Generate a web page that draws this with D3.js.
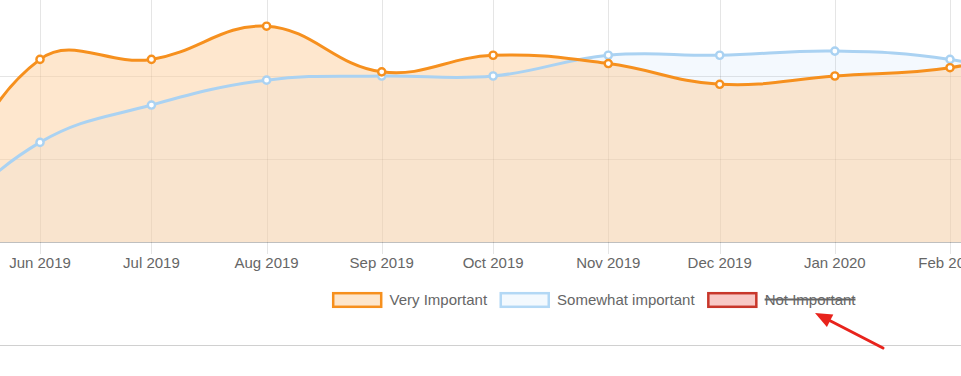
<!DOCTYPE html>
<html>
<head>
<meta charset="utf-8">
<script src="https://cdn.jsdelivr.net/npm/d3@7"></script>
<style>
  body { margin: 0; background: #fff; }
  svg { display: block; font-family: "Liberation Sans", Arial, sans-serif; }
</style>
</head>
<body>
<div id="chart"></div>
<script>
// months shown (first of month); May 2019 and Mar 2020 sit just outside the crop
const months = ["2019-05-01", "2019-06-01", "2019-07-01", "2019-08-01", "2019-09-01", "2019-10-01",
                "2019-11-01", "2019-12-01", "2020-01-01", "2020-02-01", "2020-03-01"];
const veryImportant     = [1.5, 22, 22, 26, 20.5, 22.5, 21.5, 19, 20, 21, 24];
const somewhatImportant = [0.5, 12, 16.5, 19.5, 20, 20, 22.5, 22.5, 23, 22, 19];
const legendLabels = ["Very Important", "Somewhat important", "Not Important"];
const tickMonths = ["2019-06-01", "2019-07-01", "2019-08-01", "2019-09-01", "2019-10-01",
                    "2019-11-01", "2019-12-01", "2020-01-01", "2020-02-01"];
const yTicks = [0, 10, 20, 30];

const W = 961, H = 376;
const axisY = 242;
const parse = d3.timeParse("%Y-%m-%d");
const dates = months.map(parse);
const ticks = tickMonths.map(parse);

const svg = d3.select("#chart").append("svg")
    .attr("width", W)
    .attr("height", H);

// time scale anchored on the Jun 2019 and Feb 2020 gridlines
const x = d3.scaleTime()
    .domain([ticks[0], ticks[ticks.length - 1]])
    .range([40, 950]);

const y = d3.scaleLinear()
    .domain([0, 20])
    .range([axisY, 76]);

// Chart.js style spline (tension 0.4) as a d3 curve
function curveSpline(context) {
    const T = 0.4;
    let pts, line = NaN;
    return {
        areaStart() { line = 0; },
        areaEnd() { line = NaN; },
        lineStart() { pts = []; },
        point(px, py) { pts.push([+px, +py]); },
        lineEnd() {
            const n = pts.length;
            if (!n) return;
            if (line) context.lineTo(pts[0][0], pts[0][1]);
            else context.moveTo(pts[0][0], pts[0][1]);
            const cp = pts.map((p, i) => {
                const prev = pts[i - 1] || p, next = pts[i + 1] || p;
                const d01 = Math.hypot(p[0] - prev[0], p[1] - prev[1]);
                const d12 = Math.hypot(next[0] - p[0], next[1] - p[1]);
                let s01 = d01 / (d01 + d12), s12 = d12 / (d01 + d12);
                if (isNaN(s01)) s01 = 0;
                if (isNaN(s12)) s12 = 0;
                const fa = T * s01, fb = T * s12;
                return {
                    prev: [p[0] - fa * (next[0] - prev[0]), p[1] - fa * (next[1] - prev[1])],
                    next: [p[0] + fb * (next[0] - prev[0]), p[1] + fb * (next[1] - prev[1])]
                };
            });
            for (let i = 1; i < n; i++) {
                context.bezierCurveTo(cp[i - 1].next[0], cp[i - 1].next[1],
                                      cp[i].prev[0], cp[i].prev[1], pts[i][0], pts[i][1]);
            }
            if (line || (line !== 0 && n === 1)) context.closePath();
            line = 1 - line;
        }
    };
}

svg.append("defs").append("clipPath")
    .attr("id", "plot-clip")
  .append("rect")
    .attr("x", 0).attr("y", -20)
    .attr("width", W).attr("height", axisY + 20);

// gridlines
svg.append("g")
    .selectAll("line")
    .data(ticks)
    .join("line")
    .attr("x1", d => Math.round(x(d)) + 0.5)
    .attr("x2", d => Math.round(x(d)) + 0.5)
    .attr("y1", 0)
    .attr("y2", axisY + 12)
    .attr("stroke", "rgba(0,0,0,0.1)");

svg.append("g")
    .selectAll("line")
    .data(yTicks.filter(d => d > 0))
    .join("line")
    .attr("x1", 0).attr("x2", W)
    .attr("y1", d => Math.round(y(d)) + 0.5)
    .attr("y2", d => Math.round(y(d)) + 0.5)
    .attr("stroke", "rgba(0,0,0,0.1)");

// last dataset drawn first, so "Very Important" sits on top
const series = [
    { key: legendLabels[1], values: somewhatImportant, stroke: "#aad2f2", fill: "rgba(130,190,245,0.09)" },
    { key: legendLabels[0], values: veryImportant, stroke: "#f6901e", fill: "rgba(253,208,158,0.5)" }
];
series.forEach(s => s.pts = dates.map((d, i) => ({ date: d, value: s.values[i] })));

const lineGen = d3.line()
    .x(d => x(d.date))
    .y(d => y(d.value))
    .curve(curveSpline);

const areaGen = d3.area()
    .x(d => x(d.date))
    .y0(y(0))
    .y1(d => y(d.value))
    .curve(curveSpline);

const plot = svg.append("g").attr("clip-path", "url(#plot-clip)");

// fills first, then the lines and points over them
series.forEach(s => {
    plot.append("path")
        .attr("d", areaGen(s.pts))
        .attr("fill", s.fill);
});

series.forEach(s => {
    plot.append("path")
        .attr("d", lineGen(s.pts))
        .attr("fill", "none")
        .attr("stroke", s.stroke)
        .attr("stroke-width", 3);
    plot.append("g")
        .selectAll("circle")
        .data(s.pts)
        .join("circle")
        .attr("cx", d => x(d.date))
        .attr("cy", d => y(d.value))
        .attr("r", 3.6)
        .attr("fill", "#fff")
        .attr("stroke", s.stroke)
        .attr("stroke-width", 2.4);
});

// x axis line + labels
svg.append("line")
    .attr("x1", 0).attr("x2", W)
    .attr("y1", axisY + 0.5).attr("y2", axisY + 0.5)
    .attr("stroke", "rgba(0,0,0,0.25)");

const fmt = d3.timeFormat("%b %Y");
svg.append("g")
    .selectAll("text")
    .data(ticks)
    .join("text")
    .attr("x", d => x(d))
    .attr("y", 268)
    .attr("text-anchor", "middle")
    .attr("font-size", 15)
    .attr("fill", "#666")
    .text(d => fmt(d));

// legend
const legendItems = [
    { label: legendLabels[0], stroke: "#f6901e", fill: "#fde6cc", hidden: false },
    { label: legendLabels[1], stroke: "#b3d8f5", fill: "#f3f9fe", hidden: false },
    { label: legendLabels[2], stroke: "#c8372b", fill: "#f8c9c6", hidden: true }
];

const legend = svg.append("g").attr("transform", "translate(332,292)");
let lx = 0;
legendItems.forEach(item => {
    const g = legend.append("g").attr("transform", `translate(${lx},0)`);
    g.append("rect")
        .attr("x", 1.2).attr("y", 1.2)
        .attr("width", 48).attr("height", 13.6)
        .attr("fill", item.fill)
        .attr("stroke", item.stroke)
        .attr("stroke-width", 2.5);
    const t = g.append("text")
        .attr("x", 57.5)
        .attr("y", 7.5)
        .attr("dy", "0.35em")
        .attr("font-size", 15)
        .attr("fill", "#666")
        .text(item.label);
    const tw = t.node().getComputedTextLength();
    if (item.hidden) {
        g.append("line")
            .attr("x1", 57.5).attr("x2", 57.5 + tw)
            .attr("y1", 7.5).attr("y2", 7.5)
            .attr("stroke", "#666")
            .attr("stroke-width", 2);
    }
    lx += 57.5 + tw + 12.5;
});

// separator under the chart
svg.append("line")
    .attr("x1", 0).attr("x2", W)
    .attr("y1", 345.5).attr("y2", 345.5)
    .attr("stroke", "#d0d0d0");

// red annotation arrow pointing at the struck-through legend item
const tail = [883, 348], tip = [815, 313];
const ang = Math.atan2(tip[1] - tail[1], tip[0] - tail[0]);
const headLen = 17, headW = 7;
const base = [tip[0] - headLen * Math.cos(ang), tip[1] - headLen * Math.sin(ang)];
svg.append("line")
    .attr("x1", tail[0]).attr("y1", tail[1])
    .attr("x2", base[0]).attr("y2", base[1])
    .attr("stroke", "#e8231c")
    .attr("stroke-width", 3)
    .attr("stroke-linecap", "round");
svg.append("path")
    .attr("d", d3.line()([
        tip,
        [base[0] + headW * Math.sin(ang), base[1] - headW * Math.cos(ang)],
        [base[0] - headW * Math.sin(ang), base[1] + headW * Math.cos(ang)]
    ]) + "Z")
    .attr("fill", "#e8231c");
</script>
</body>
</html>
